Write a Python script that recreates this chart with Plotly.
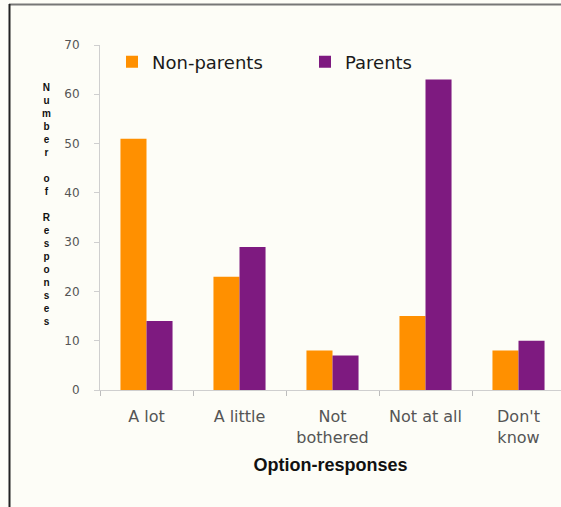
import plotly.graph_objects as go

# Survey answers, counted per group
categories = ["A lot", "A little", "Not<br>bothered", "Not at all", "Don't<br>know"]
non_parents = [51, 23, 8, 15, 8]
parents = [14, 29, 7, 63, 10]
y_ticks = [0, 10, 20, 30, 40, 50, 60, 70]
y_title_words = ["Number", "of", "Responses"]

ORANGE = "#FF9000"
PURPLE = "#7E1A80"
BG = "#FDFDF7"

W, H = 561, 507
L, R, T, B = 100, 0, 45, 117
PW, PH = W - L - R, H - T - B


def px_x(x):
    return (x - L) / PW


def px_y(y):
    return (H - B - y) / PH


fig = go.Figure()
fig.add_trace(go.Bar(name="Non-parents", x=categories, y=non_parents,
                     marker=dict(color=ORANGE, line=dict(width=0))))
fig.add_trace(go.Bar(name="Parents", x=categories, y=parents,
                     marker=dict(color=PURPLE, line=dict(width=0))))

# Vertical axis title: one upright letter per line, a blank line between words
stacked = "<br><br>".join("<br>".join(word) for word in y_title_words)
fig.add_annotation(
    text=stacked, xref="paper", yref="paper",
    x=px_x(46), y=px_y(205), xanchor="center", yanchor="middle",
    showarrow=False,
    font=dict(family="Liberation Sans, Arial", size=10, color="#111111", weight="bold"),
)

# Frame lines around the chart area
fig.add_shape(type="line", xref="paper", yref="paper",
              x0=px_x(9), x1=px_x(561), y0=px_y(4.5), y1=px_y(4.5),
              line=dict(color="#777777", width=2))
fig.add_shape(type="line", xref="paper", yref="paper",
              x0=px_x(9.5), x1=px_x(9.5), y0=px_y(4), y1=px_y(507),
              line=dict(color="#222222", width=2))

fig.update_layout(
    width=W, height=H,
    margin=dict(l=L, r=R, t=T, b=B),
    paper_bgcolor=BG, plot_bgcolor=BG,
    barmode="group", bargap=0.44, bargroupgap=0,
    showlegend=True,
    legend=dict(
        orientation="h", x=px_x(112), y=px_y(62), xanchor="left", yanchor="middle",
        bgcolor="rgba(0,0,0,0)", borderwidth=0,
        font=dict(family="DejaVu Sans", size=18, color="#1a1a1a"),
        entrywidth=148, entrywidthmode="pixels",
    ),
    xaxis=dict(
        range=[-0.5, 4.5 + (PW / 93.0 - 5.0)],
        showline=True, linecolor="#cfcfcf", linewidth=1,
        ticks="outside", tickson="boundaries", ticklen=5, tickcolor="#bdbdbd",
        tickfont=dict(family="DejaVu Sans", size=16, color="#555555"),
        ticklabelstandoff=12,
        showgrid=False, zeroline=False,
        title=dict(text="Option-responses", standoff=12,
                   font=dict(family="Liberation Sans, Arial", size=18, color="#111111",
                             weight="bold")),
    ),
    yaxis=dict(
        range=[0, 70], tickvals=y_ticks,
        showline=True, linecolor="#cfcfcf", linewidth=1,
        ticks="outside", ticklen=5, tickcolor="#cfcfcf",
        tickfont=dict(family="DejaVu Sans", size=12, color="#555555"),
        ticklabelstandoff=12,
        showgrid=False, zeroline=False,
    ),
)

fig.write_html("out.html")
